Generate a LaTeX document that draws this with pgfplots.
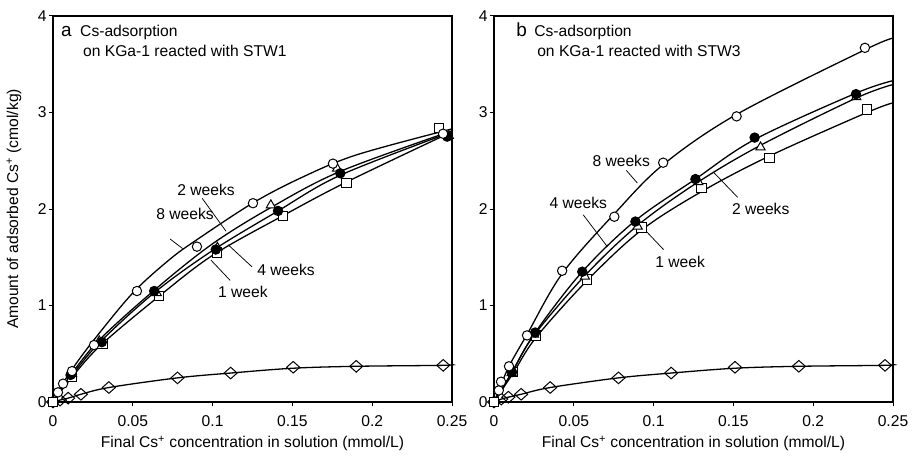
\documentclass[border=0pt]{standalone}
\usepackage{pgfplots}
\pgfplotsset{compat=1.18}
\usepackage{fontspec}
\setmainfont{Liberation Sans}
\begin{document}
\fontsize{15.7}{18}\selectfont
\begin{tikzpicture}
\tikzset{
 ld/.style={black, line width=0.75pt},
 lb/.style={inner sep=0pt, font=\fontsize{15.7}{18}\selectfont},
}
\pgfplotsset{
 panel/.style={
  scale only axis, width=399bp, height=386bp,
  xmin=0,xmax=0.25,ymin=0,ymax=4,
  xtick={0,0.05,0.1,0.15,0.2,0.25},
  xticklabels={0,0.05,0.1,0.15,0.2,0.25},
  ytick={0,1,2,3,4},
  tick align=outside, xtick pos=bottom, ytick pos=left,
  major tick length=4bp,
  axis line style={line width=1.3pt},
  every tick/.style={black, line width=1pt},
  tick label style={font=\fontsize{15.7}{18}\selectfont},
  xticklabel style={yshift=-4bp},
  yticklabel style={xshift=3bp},
  /pgf/number format/assume math mode=true,
  clip=false,
 },
 crv/.style={black, line width=1.3pt, smooth, tension=0.55, no markers},
 pts/.style={only marks, black, line width=1pt, mark size=4.7bp, mark options={fill=white}},
}
\path[use as bounding box] (-53bp,-54bp) rectangle (859bp,402bp);
% ---------------- panel a
\begin{axis}[panel, at={(0bp,0bp)},
 ylabel={Amount of adsorbed Cs\textsuperscript{+} (cmol/kg)},
 xlabel={Final Cs\textsuperscript{+} concentration in solution (mmol/L)},
 ylabel style={at={(axis description cs:-0.098,0.5)}, anchor=center, font=\fontsize{15.7}{18}\selectfont},
 xlabel style={at={(axis description cs:0.5,-0.107)}, anchor=center, font=\fontsize{15.7}{18}\selectfont},
]
% curves (8, 2, 4, 1 weeks, unreacted)
\addplot[crv] coordinates {(0,0)(0.005,0.16)(0.012,0.34)(0.025,0.63)(0.05,1.13)(0.0733,1.48)(0.09,1.68)(0.125,2.06)(0.155,2.32)(0.19,2.56)(0.25,2.83)};
\addplot[crv] coordinates {(0,0)(0.012,0.30)(0.03,0.66)(0.065,1.18)(0.1,1.64)(0.137,2.02)(0.18,2.39)(0.25,2.81)};
\addplot[crv] coordinates {(0,0)(0.012,0.28)(0.03,0.63)(0.064,1.14)(0.1,1.57)(0.14,1.97)(0.18,2.35)(0.25,2.80)};
\addplot[crv] coordinates {(0,0)(0.012,0.26)(0.03,0.59)(0.066,1.09)(0.1,1.52)(0.144,1.93)(0.184,2.28)(0.25,2.80)};
\addplot[crv] coordinates {(0,0)(0.0044,0.02)(0.0095,0.04)(0.0175,0.08)(0.035,0.15)(0.078,0.25)(0.1113,0.30)(0.1505,0.35)(0.19,0.37)(0.2445,0.38)(0.25,0.39)};
% markers
\addplot[pts, mark=diamond, mark size=5.8bp, mark options={fill=white, xscale=1.5}] coordinates {(0,0)(0.0044,0.02)(0.0095,0.04)(0.0175,0.08)(0.035,0.15)(0.078,0.25)(0.1113,0.30)(0.1505,0.36)(0.19,0.37)(0.2445,0.38)};
\addplot[pts, mark=square*] coordinates {(0,0)(0.012,0.26)(0.031,0.60)(0.0664,1.10)(0.1028,1.55)(0.144,1.93)(0.184,2.27)(0.242,2.84)};
\addplot[pts, mark=triangle*, mark size=5.3bp] coordinates {(0.012,0.29)(0.029,0.63)(0.065,1.13)(0.103,1.60)(0.1365,2.04)(0.178,2.42)(0.248,2.76)};
\addplot[pts, mark=*, mark options={fill=black}] coordinates {(0.011,0.28)(0.0306,0.62)(0.0634,1.15)(0.102,1.58)(0.141,1.98)(0.180,2.37)(0.247,2.75)};
\addplot[pts, mark=*] coordinates {(0.0031,0.10)(0.0063,0.19)(0.0119,0.32)(0.0257,0.59)(0.0526,1.15)(0.0902,1.61)(0.1253,2.06)(0.1754,2.47)(0.2444,2.78)};
% texts
\node[anchor=base west, inner sep=0pt, font=\fontsize{19}{20}\selectfont] at (axis description cs:0.02,0.9456) {a};
\node[anchor=base west, lb] at (axis description cs:0.0677,0.9456) {Cs-adsorption};
\node[anchor=base west, lb] at (axis description cs:0.075,0.8938) {on KGa-1 reacted with STW1};
\node[lb] at (axis cs:0.0959,2.20) {2 weeks};
\draw[ld] (axis cs:0.0935,2.11) -- (axis cs:0.1084,1.77);
\node[lb] at (axis cs:0.0827,1.95) {8 weeks};
\draw[ld] (axis cs:0.0733,1.69) -- (axis cs:0.0812,1.59);
\node[lb] at (axis cs:0.146,1.37) {4 weeks};
\draw[ld] (axis cs:0.1097,1.63) -- (axis cs:0.1247,1.40);
\node[lb] at (axis cs:0.119,1.14) {1 week};
\draw[ld] (axis cs:0.099,1.47) -- (axis cs:0.111,1.26);
\end{axis}
% ---------------- panel b
\begin{axis}[panel, at={(441bp,0bp)},
 xlabel={Final Cs\textsuperscript{+} concentration in solution (mmol/L)},
 xlabel style={at={(axis description cs:0.5,-0.107)}, anchor=center, font=\fontsize{15.7}{18}\selectfont},
]
\addplot[crv] coordinates {(0,0)(0.003,0.12)(0.0094,0.37)(0.0207,0.70)(0.0427,1.33)(0.0754,1.95)(0.106,2.46)(0.152,2.98)(0.2324,3.65)(0.25,3.77)};
\addplot[crv] coordinates {(0,0)(0.0113,0.31)(0.0258,0.72)(0.0553,1.35)(0.0886,1.88)(0.1262,2.31)(0.1633,2.72)(0.2268,3.20)(0.25,3.33)};
\addplot[crv] coordinates {(0,0)(0.011,0.30)(0.025,0.69)(0.057,1.31)(0.09,1.83)(0.127,2.27)(0.167,2.66)(0.227,3.15)(0.25,3.29)};
\addplot[crv] coordinates {(0,0)(0.012,0.30)(0.0264,0.67)(0.0584,1.26)(0.0923,1.78)(0.130,2.18)(0.1727,2.55)(0.2337,3.00)(0.25,3.10)};
\addplot[crv] coordinates {(0,0)(0.0045,0.03)(0.009,0.05)(0.017,0.08)(0.0352,0.15)(0.078,0.25)(0.111,0.30)(0.151,0.35)(0.191,0.37)(0.245,0.38)(0.25,0.39)};
\addplot[pts, mark=diamond, mark size=5.8bp, mark options={fill=white, xscale=1.5}] coordinates {(0,0)(0.0045,0.03)(0.009,0.05)(0.017,0.08)(0.0352,0.15)(0.078,0.25)(0.111,0.30)(0.151,0.36)(0.191,0.37)(0.245,0.38)};
\addplot[pts, mark=square*] coordinates {(0,0)(0.012,0.31)(0.0264,0.69)(0.0584,1.27)(0.0923,1.81)(0.130,2.22)(0.1727,2.53)(0.2337,3.03)};
\addplot[pts, mark=triangle*, mark size=5.3bp] coordinates {(0.011,0.30)(0.025,0.70)(0.057,1.30)(0.09,1.82)(0.128,2.28)(0.167,2.64)(0.227,3.16)};
\addplot[pts, mark=*, mark options={fill=black}] coordinates {(0.0113,0.31)(0.0258,0.72)(0.0553,1.35)(0.0886,1.87)(0.1262,2.31)(0.1633,2.74)(0.2268,3.19)};
\addplot[pts, mark=*] coordinates {(0.003,0.12)(0.0044,0.21)(0.0094,0.37)(0.0207,0.69)(0.0427,1.36)(0.0754,1.92)(0.106,2.48)(0.152,2.96)(0.2324,3.67)};
\node[anchor=base west, inner sep=0pt, font=\fontsize{19}{20}\selectfont] at (axis description cs:0.0553,0.9456) {b};
\node[anchor=base west, lb] at (axis description cs:0.1005,0.9456) {Cs-adsorption};
\node[anchor=base west, lb] at (axis description cs:0.108,0.8938) {on KGa-1 reacted with STW3};
\node[lb] at (axis cs:0.0797,2.50) {8 weeks};
\draw[ld] (axis cs:0.0829,2.40) -- (axis cs:0.0898,2.27);
\node[lb] at (axis cs:0.0528,2.06) {4 weeks};
\draw[ld] (axis cs:0.0559,1.94) -- (axis cs:0.0710,1.61);
\node[lb] at (axis cs:0.1671,2.00) {2 weeks};
\draw[ld] (axis cs:0.1376,2.38) -- (axis cs:0.1527,2.12);
\node[lb] at (axis cs:0.1166,1.45) {1 week};
\draw[ld] (axis cs:0.0930,1.81) -- (axis cs:0.1062,1.58);
\end{axis}
\end{tikzpicture}
\end{document}
